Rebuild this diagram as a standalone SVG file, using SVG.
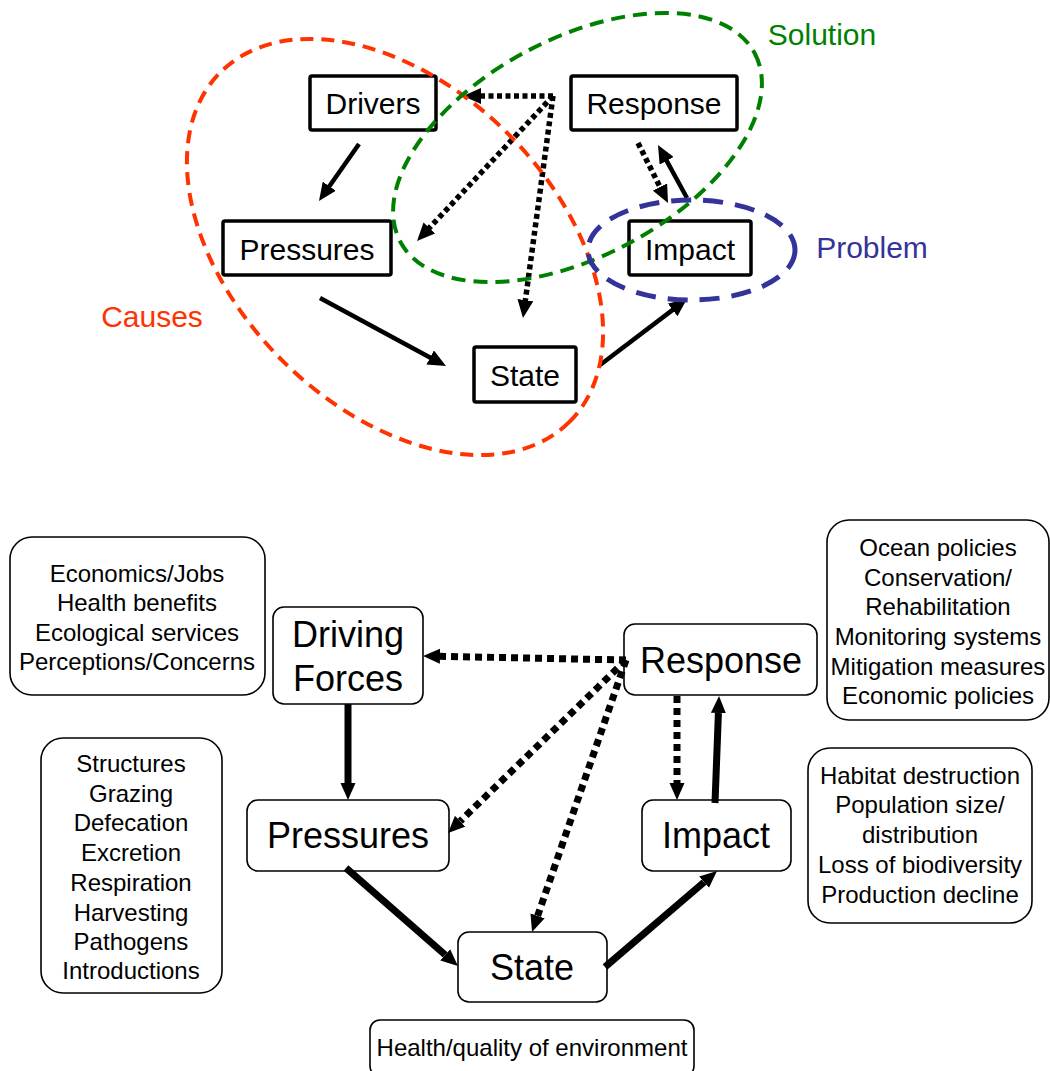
<svg xmlns="http://www.w3.org/2000/svg" width="1050" height="1071" viewBox="0 0 1050 1071">
<style>
text{font-family:"Liberation Sans",Arial,sans-serif;fill:#000;text-anchor:middle}
.tb{fill:#fff;stroke:#000;stroke-width:3.5}
.t30{font-size:30px}
.bb{fill:#fff;stroke:#000;stroke-width:1.6}
.t36{font-size:36px}
.t24{font-size:24px}
.sa{stroke:#000;stroke-width:4.5;fill:none}
.da{stroke:#000;stroke-width:5.5;fill:none;stroke-dasharray:5 3.5}
.sb{stroke:#000;stroke-width:7;fill:none}
.db{stroke:#000;stroke-width:7;fill:none;stroke-dasharray:7 5}
.ell{fill:none}
</style>
<defs>
<marker id="ah" markerUnits="userSpaceOnUse" markerWidth="18" markerHeight="16" refX="3" refY="8" orient="auto"><path d="M0,0 L18,8 L0,16 z" fill="#000"/></marker>
<marker id="bh" markerUnits="userSpaceOnUse" markerWidth="17" markerHeight="16" refX="0" refY="8" orient="auto"><path d="M0,0.5 L17,8 L0,15.5 z" fill="#000"/></marker>
</defs>

<!-- Top diagram nodes -->
<g id="top-drivers"><rect class="tb" x="310" y="76" width="126" height="54" rx="2"/><text class="t30" x="373" y="114">Drivers</text></g>
<g id="top-response"><rect class="tb" x="571" y="76" width="166" height="54" rx="2"/><text class="t30" x="654" y="114">Response</text></g>
<g id="top-pressures"><rect class="tb" x="223" y="221" width="168" height="54" rx="2"/><text class="t30" x="307" y="260">Pressures</text></g>
<g id="top-impact"><rect class="tb" x="629" y="221" width="122" height="54" rx="2"/><text class="t30" x="690" y="260">Impact</text></g>
<g id="top-state"><rect class="tb" x="474" y="347" width="102" height="55" rx="2"/><text class="t30" x="525" y="386">State</text></g>

<!-- Top connectors -->
<g id="top-connectors">
<line class="sa" x1="359" y1="144" x2="327.6" y2="188.7" marker-end="url(#ah)"/>
<line class="sa" x1="320" y1="298" x2="432.8" y2="358.9" marker-end="url(#ah)"/>
<line class="sa" x1="600" y1="365" x2="675" y2="308.1" marker-end="url(#ah)"/>
<line class="sa" x1="687" y1="198" x2="665.2" y2="158.2" marker-end="url(#ah)"/>
<line class="da" x1="638" y1="143" x2="661.3" y2="189.6" marker-end="url(#ah)"/>
<line class="da" x1="553" y1="96" x2="478" y2="96" marker-end="url(#ah)"/>
<line class="da" x1="553" y1="96" x2="427.3" y2="230.1" marker-end="url(#ah)"/>
<line class="da" x1="553" y1="96" x2="525" y2="303.1" marker-end="url(#ah)"/>
</g>

<!-- Top ellipses and labels -->
<g id="causes">
<ellipse class="ell" cx="395" cy="247" rx="247" ry="160" transform="rotate(45 395 247)" stroke="#FF3300" stroke-width="4" stroke-dasharray="13 8"/>
<text class="t30" x="152" y="327" style="fill:#FF3300">Causes</text>
</g>
<g id="solution">
<ellipse class="ell" cx="577.5" cy="147.5" rx="200.7" ry="108.8" transform="rotate(-28 577.5 147.5)" stroke="#008000" stroke-width="4" stroke-dasharray="14 8"/>
<text class="t30" x="822" y="45" style="fill:#008000">Solution</text>
</g>
<g id="problem">
<ellipse class="ell" cx="691.5" cy="250" rx="103.5" ry="50" stroke="#333399" stroke-width="5" stroke-dasharray="20 12"/>
<text class="t30" x="872" y="258" style="fill:#333399">Problem</text>
</g>

<!-- Bottom diagram nodes -->
<g id="driving-forces"><rect class="bb" x="273" y="607" width="150" height="97" rx="11"/><text class="t36" x="348" y="647">Driving</text><text class="t36" x="348" y="691">Forces</text></g>
<g id="response"><rect class="bb" x="624" y="624" width="193" height="71" rx="11"/><text class="t36" x="721" y="673">Response</text></g>
<g id="pressures"><rect class="bb" x="247" y="800" width="202" height="71" rx="11"/><text class="t36" x="348" y="848">Pressures</text></g>
<g id="impact"><rect class="bb" x="642" y="800" width="149" height="71" rx="11"/><text class="t36" x="716" y="848">Impact</text></g>
<g id="state"><rect class="bb" x="458" y="932" width="149" height="70" rx="11"/><text class="t36" x="532" y="980">State</text></g>

<g id="info-drivers"><rect class="bb" x="10" y="537" width="255" height="158" rx="22"/>
<text class="t24" x="137" y="582">Economics/Jobs</text>
<text class="t24" x="137" y="611">Health benefits</text>
<text class="t24" x="137" y="641">Ecological services</text>
<text class="t24" x="137" y="670">Perceptions/Concerns</text></g>
<g id="info-pressures"><rect class="bb" x="41" y="738" width="181" height="255" rx="22"/>
<text class="t24" x="131" y="772">Structures</text>
<text class="t24" x="131" y="802">Grazing</text>
<text class="t24" x="131" y="831">Defecation</text>
<text class="t24" x="131" y="861">Excretion</text>
<text class="t24" x="131" y="891">Respiration</text>
<text class="t24" x="131" y="921">Harvesting</text>
<text class="t24" x="131" y="950">Pathogens</text>
<text class="t24" x="131" y="979">Introductions</text></g>
<g id="info-response"><rect class="bb" x="827" y="520" width="222" height="200" rx="22"/>
<text class="t24" x="938" y="556">Ocean policies</text>
<text class="t24" x="938" y="586">Conservation/</text>
<text class="t24" x="938" y="615">Rehabilitation</text>
<text class="t24" x="938" y="645">Monitoring systems</text>
<text class="t24" x="938" y="675">Mitigation measures</text>
<text class="t24" x="938" y="704">Economic policies</text></g>
<g id="info-impact"><rect class="bb" x="808" y="748" width="224" height="175" rx="22"/>
<text class="t24" x="920" y="784">Habitat destruction</text>
<text class="t24" x="920" y="813">Population size/</text>
<text class="t24" x="920" y="843">distribution</text>
<text class="t24" x="920" y="873">Loss of biodiversity</text>
<text class="t24" x="920" y="903">Production decline</text></g>
<g id="info-state"><rect class="bb" x="370" y="1020" width="324" height="56" rx="10"/>
<text class="t24" x="532" y="1056">Health/quality of environment</text></g>

<!-- Bottom connectors -->
<g id="bottom-connectors">
<line class="sb" x1="348" y1="704" x2="348" y2="783" marker-end="url(#bh)"/>
<line class="sb" x1="346" y1="868" x2="445.2" y2="954.8" marker-end="url(#bh)"/>
<line class="sb" x1="605" y1="967" x2="704.1" y2="882.1" marker-end="url(#bh)"/>
<line class="sb" x1="715" y1="803" x2="718.4" y2="713" marker-end="url(#bh)"/>
<line class="db" x1="677" y1="696" x2="677" y2="783" marker-end="url(#bh)"/>
<line class="db" x1="626" y1="660" x2="440" y2="656.3" marker-end="url(#bh)"/>
<line class="db" x1="626" y1="660" x2="460.2" y2="821.2" marker-end="url(#bh)"/>
<line class="db" x1="626" y1="660" x2="537.6" y2="915.9" marker-end="url(#bh)"/>
</g>
</svg>
